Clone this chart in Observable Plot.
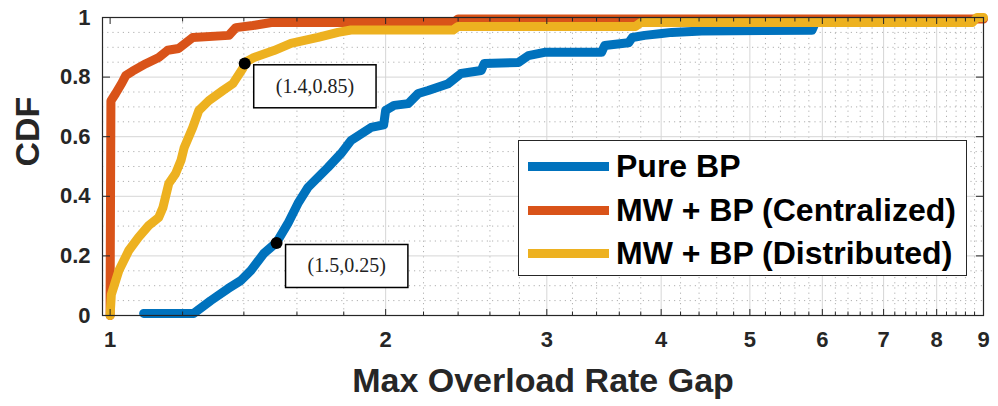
<!DOCTYPE html>
<html><head><meta charset="utf-8">
<script src="https://cdn.jsdelivr.net/npm/d3@7"></script>
<script src="https://cdn.jsdelivr.net/npm/@observablehq/plot@0.6"></script>
<style>
body{margin:0;background:#fff;}
#wrap{position:relative;width:998px;height:406px;}
.legend{position:absolute;left:518px;top:140px;width:447px;height:134px;border:1.5px solid #262626;background:#fff;font-family:"Liberation Sans",Arial,sans-serif;font-weight:bold;font-size:32px;color:#000;}
.row{position:absolute;left:0;height:40px;display:flex;align-items:center;white-space:nowrap;}
.sw{width:81px;height:9px;margin-left:9px;margin-right:7px;}
</style></head><body><div id="wrap"></div>
<script>
const seriesNames = ["Pure BP", "MW + BP (Centralized)", "MW + BP (Distributed)"];
const seriesColors = ["#0072BD", "#D95319", "#EDB120"];

const pureBP = [[1.088,0.007],[1.234,0.007],[1.288,0.05],[1.345,0.09],[1.389,0.117],[1.425,0.151],[1.472,0.208],[1.52,0.245],[1.564,0.309],[1.604,0.376],[1.645,0.43],[1.73,0.497],[1.788,0.544],[1.833,0.587],[1.928,0.631],[1.99,0.64],[2.0,0.688],[2.043,0.705],[2.117,0.711],[2.171,0.745],[2.226,0.755],[2.341,0.778],[2.418,0.812],[2.544,0.822],[2.563,0.846],[2.793,0.849],[2.864,0.872],[2.982,0.883],[3.443,0.883],[3.47,0.906],[3.685,0.915],[3.72,0.933],[3.837,0.94],[4.006,0.946],[4.107,0.95],[4.43,0.955],[5.845,0.957],[5.9,0.985],[8.0,0.985]];
const centralized = [[1.0,0.0],[1.0,0.08],[1.002,0.72],[1.014,0.745],[1.03,0.78],[1.04,0.805],[1.058,0.82],[1.094,0.845],[1.13,0.866],[1.156,0.89],[1.188,0.896],[1.231,0.933],[1.348,0.94],[1.372,0.966],[1.432,0.973],[1.5,0.983],[2.37,0.983],[2.4,0.995],[9.0,0.995]];
const distributed = [[1.0,0.0],[1.003,0.07],[1.022,0.15],[1.048,0.218],[1.074,0.262],[1.102,0.302],[1.13,0.329],[1.142,0.362],[1.159,0.443],[1.179,0.476],[1.195,0.52],[1.205,0.564],[1.231,0.631],[1.25,0.688],[1.282,0.721],[1.328,0.755],[1.362,0.778],[1.396,0.829],[1.405,0.85],[1.436,0.866],[1.51,0.889],[1.576,0.913],[1.687,0.933],[1.774,0.95],[1.833,0.958],[2.37,0.958],[2.4,0.97],[3.75,0.97],[3.8,0.983],[8.75,0.983],[8.85,1.0],[9.0,1.0]];

const xTicks = [1,2,3,4,5,6,7,8,9];
const yTicks = [0,0.2,0.4,0.6,0.8,1];
const xMinor = d3.range(10,90,2).map(d=>d/10).filter(d=>!Number.isInteger(d));
const yMinor = d3.range(1,20).map(d=>d*0.05).filter(d=>Math.abs(d*5-Math.round(d*5))>1e-6);

const annotations = [
  {x:1.403, y:0.846, label:"(1.4,0.85)"},
  {x:1.52, y:0.243, label:"(1.5,0.25)"}
];

const data = [];
[pureBP, centralized, distributed].forEach((arr,i)=>arr.forEach(([x,y])=>data.push({x,y,series:seriesNames[i]})));

const font = "'Liberation Sans', Arial, sans-serif";
const ink = "#262626";

const plot = Plot.plot({
  width: 998, height: 406,
  marginLeft: 102, marginRight: 15, marginTop: 17, marginBottom: 91,
  style: {fontFamily: font, background: "#fff", color: ink},
  x: {type: "log", domain: [0.981, 9]},
  y: {domain: [0, 1]},
  color: {domain: seriesNames, range: seriesColors},
  marks: [
    Plot.ruleX(xMinor, {stroke: "#b0b0b0", strokeDasharray: "1.2,4", strokeWidth: 1}),
    Plot.ruleY(yMinor, {stroke: "#b0b0b0", strokeDasharray: "1.2,4", strokeWidth: 1}),
    Plot.ruleX(xTicks.slice(1), {stroke: "#d6d6d6", strokeWidth: 1}),
    Plot.ruleY(yTicks.slice(1,-1), {stroke: "#d6d6d6", strokeWidth: 1}),
    Plot.line(data, {x: "x", y: "y", z: "series", stroke: "series", strokeWidth: 9, strokeLinejoin: "round", strokeLinecap: "round"}),
    Plot.dot(annotations, {x: "x", y: "y", r: 6, fill: "#000"}),
    Plot.text(annotations, {x: "x", y: "y", text: "label", dx: 31, dy: 23, textAnchor: "start", fontFamily: "'Liberation Serif', 'DejaVu Serif', serif", fontSize: 20, fill: "#222", className: "annot"}),
    Plot.frame({stroke: ink, strokeWidth: 1.2}),
    Plot.axisX(xTicks, {anchor: "bottom", tickSize: 0, tickPadding: 16, fontSize: 22, fontWeight: "bold", tickFormat: d => String(d), label: null, fill: ink}),
    Plot.axisX(xTicks, {anchor: "bottom", tickSize: -6, tickFormat: () => "", label: null, stroke: ink}),
    Plot.axisX(xTicks, {anchor: "top", tickSize: -6, tickFormat: () => "", label: null, stroke: ink}),
    Plot.axisX(xMinor, {anchor: "bottom", tickSize: -3.5, tickFormat: () => "", label: null, stroke: ink}),
    Plot.axisX(xMinor, {anchor: "top", tickSize: -3.5, tickFormat: () => "", label: null, stroke: ink}),
    Plot.axisY(yTicks, {anchor: "left", tickSize: 0, tickPadding: 12, fontSize: 22, fontWeight: "bold", tickFormat: d => String(d), label: null, fill: ink}),
    Plot.axisY(yTicks, {anchor: "left", tickSize: -8, tickFormat: () => "", label: null, stroke: ink}),
    Plot.axisY(yTicks, {anchor: "right", tickSize: -8, tickFormat: () => "", label: null, stroke: ink}),
    Plot.text(["Max Overload Rate Gap"], {frameAnchor: "bottom", dy: 66, fontSize: 34, fontWeight: "bold", fill: ink, lineAnchor: "middle"}),
    Plot.text(["CDF"], {frameAnchor: "left", dx: -74, rotate: -90, fontSize: 34, fontWeight: "bold", fill: ink, lineAnchor: "middle"})
  ]
});

const wrap = document.getElementById("wrap");
wrap.appendChild(plot);

// boxes around annotation labels
d3.select(plot).selectAll("g.annot text").each(function(){
  const b = this.getBBox();
  const tr = this.getAttribute("transform");
  const r = d3.select(this.parentNode).insert("rect", () => this)
    .attr("x", b.x - 22).attr("y", b.y - 10)
    .attr("width", b.width + 44).attr("height", b.height + 20)
    .attr("fill", "#fff").attr("stroke", "#000").attr("stroke-width", 1.5);
  if (tr) r.attr("transform", tr);
});

// legend
const leg = document.createElement("div");
leg.className = "legend";
const rowTops = [5, 49, 92];
seriesNames.forEach((name, i) => {
  const row = document.createElement("div");
  row.className = "row";
  row.style.top = rowTops[i] + "px";
  const sw = document.createElement("div");
  sw.className = "sw";
  sw.style.background = seriesColors[i];
  const t = document.createElement("span");
  t.textContent = name;
  row.appendChild(sw); row.appendChild(t);
  leg.appendChild(row);
});
wrap.appendChild(leg);
</script></body></html>
